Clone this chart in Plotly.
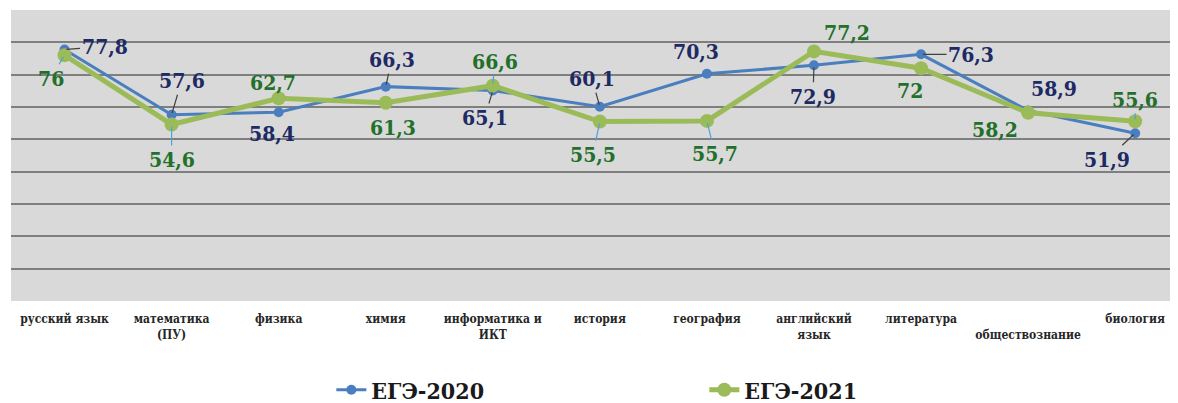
import plotly.graph_objects as go

categories = ["русский язык", "математика<br>(ПУ)", "физика", "химия", "информатика и<br>ИКТ",
              "история", "география", "английский<br>язык", "литература",
              "\u00a0<br>обществознание", "биология"]
ege_2020 = [77.8, 57.6, 58.4, 66.3, 65.1, 60.1, 70.3, 72.9, 76.3, 58.9, 51.9]
ege_2021 = [76, 54.6, 62.7, 61.3, 66.6, 55.5, 55.7, 77.2, 72, 58.2, 55.6]
series_names = ["ЕГЭ-2020", "ЕГЭ-2021"]

off_2020 = [(40, -3, True), (10, -34, True), (-7, 21, False), (6, -27, True), (-8, 27, True),
            (-8, -28, True), (-11, -22, False), (-1, 31, True), (50, 0, True), (26, -22, False),
            (-28, 26, True)]
off_2021 = [(-14, 23, True), (0, 35, True), (-6, -16, False), (7, 25, False), (2, -24, True),
            (-7, 33, True), (8, 33, True), (33, -19, False), (-11, 22, False), (-33, 17, False),
            (0, -22, True)]

x_idx = list(range(len(categories)))
BLUE = "#4a7ebf"
GREEN = "#9bbb59"
FONT = "DejaVu Serif Condensed, DejaVu Serif, serif"

fig = go.Figure()
fig.add_trace(go.Scatter(x=x_idx, y=ege_2020, name=series_names[0], mode="lines+markers",
                         line=dict(color=BLUE, width=3), marker=dict(color=BLUE, size=10)))
fig.add_trace(go.Scatter(x=x_idx, y=ege_2021, name=series_names[1], mode="lines+markers",
                         line=dict(color=GREEN, width=5), marker=dict(color=GREEN, size=14)))

def fmt(v):
    return ("%g" % v).replace(".", ",")

annotations = []
for vals, offs, tcol, lcol in [(ege_2020, off_2020, "#1d2a63", "#404040"),
                               (ege_2021, off_2021, "#22702a", "#4aa3df")]:
    for i, (v, (dx, dy, lead)) in enumerate(zip(vals, offs)):
        annotations.append(dict(
            x=i, y=v, xref="x", yref="y", text="<b>" + fmt(v) + "</b>", showarrow=True,
            ax=dx, ay=dy, arrowhead=0, arrowwidth=1.2,
            arrowcolor=lcol if lead else "rgba(0,0,0,0)", standoff=2,
            font=dict(family=FONT, size=21, color=tcol)))

fig.update_layout(
    width=1170, height=395,
    margin=dict(l=3, r=0, t=2, b=102, autoexpand=False),
    paper_bgcolor="white", plot_bgcolor="#d9d9d9",
    font=dict(family=FONT),
    showlegend=True,
    legend=dict(orientation="h", x=0.2745, y=-0.305, xanchor="left", yanchor="middle",
                font=dict(family=FONT, size=23, color="#1a1a1a"),
                entrywidth=328, entrywidthmode="pixels", bgcolor="rgba(0,0,0,0)"),
    annotations=annotations,
)
fig.data[0].name = "<b>" + series_names[0] + "</b>"
fig.data[1].name = "<b>" + series_names[1] + "</b>"
fig.update_xaxes(range=[-0.5, 10.4], tickmode="array", tickvals=x_idx,
                 ticktext=["<b>" + c.replace("<br>", "</b><br><b>") + "</b>" for c in categories],
                 showgrid=False, zeroline=False, showline=False, ticks="",
                 tickfont=dict(family=FONT, size=12, color="#262626"),
                 ticklabelstandoff=9, tickangle=0)
fig.update_yaxes(range=[0, 90], tickmode="array", tickvals=[10, 20, 30, 40, 50, 60, 70, 80, 90],
                 showgrid=True, gridcolor="#7f7f7f", gridwidth=2, zeroline=False,
                 showticklabels=False, showline=False)

fig.write_html("out.html")
